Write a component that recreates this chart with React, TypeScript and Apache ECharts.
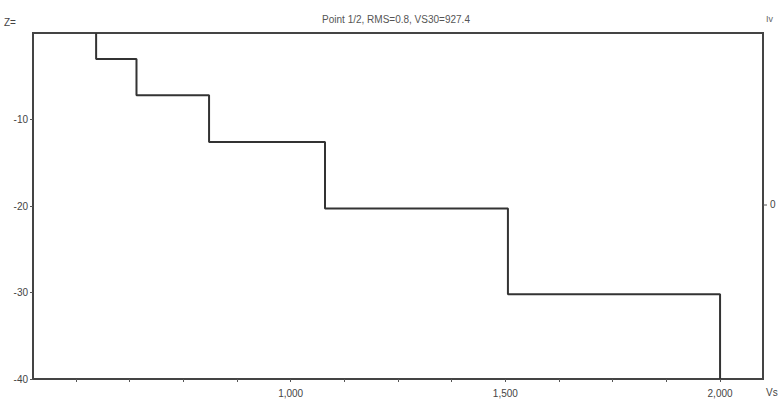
import React, { useEffect, useRef } from "react";
import * as echarts from "echarts";

// Layer shear-wave velocities (m/s) and depth boundaries (m, negative downward)
const layerVelocities = [547, 641, 810, 1080, 1506, 2000];
const layerTops = [0, -3.0, -7.2, -12.6, -20.3, -30.2];
const layerBottoms = [-3.0, -7.2, -12.6, -20.3, -30.2, -40];

const xLabelValues = [1000, 1500, 2000];
const xTickValues = [500, 625, 750, 875, 1000, 1125, 1250, 1375, 1500, 1625, 1750, 1875, 2000];
const yLabelValues = [-10, -20, -30, -40];

const titleText = "Point 1/2, RMS=0.8, VS30=927.4";

export default function App() {
  const ref = useRef<HTMLDivElement>(null);
  useEffect(() => {
    if (!ref.current) return;
    const chart = echarts.init(ref.current, undefined, { renderer: "svg" });
    const stepData: number[][] = [];
    layerVelocities.forEach((v, i) => {
      stepData.push([v, layerTops[i]]);
      stepData.push([v, layerBottoms[i]]);
    });
    const font = "Liberation Sans, Arial, sans-serif";
    chart.setOption({
      animation: false,
      backgroundColor: "#ffffff",
      title: {
        text: titleText,
        left: 391,
        top: 9,
        textAlign: "center",
        textStyle: { fontSize: 10, fontWeight: "normal", color: "#555", fontFamily: font },
      },
      grid: {
        left: 33,
        right: 16,
        top: 33,
        bottom: 26,
        show: true,
        borderColor: "#444",
        borderWidth: 2,
        backgroundColor: "transparent",
      },
      xAxis: {
        type: "value",
        position: "bottom",
        min: 400,
        max: 2100,
        axisLine: { show: false, onZero: false },
        splitLine: { show: false },
        axisTick: {
          show: true,
          customValues: xTickValues,
          length: 3,
          lineStyle: { color: "#555", width: 1 },
        },
        axisLabel: {
          customValues: xLabelValues,
          formatter: (v: number) => v.toLocaleString("en-US"),
          color: "#444",
          fontSize: 10,
          fontFamily: font,
          margin: 9,
        },
      },
      yAxis: {
        type: "value",
        min: -40,
        max: 0,
        axisLine: { show: false, onZero: false },
        splitLine: { show: false },
        axisTick: {
          show: true,
          customValues: yLabelValues,
          length: 3,
          lineStyle: { color: "#555", width: 1 },
        },
        axisLabel: {
          customValues: yLabelValues,
          color: "#444",
          fontSize: 10,
          fontFamily: font,
          margin: 5,
        },
      },
      graphic: [
        { type: "text", left: 4, top: 17, style: { text: "Z=", fontSize: 10, fill: "#444", fontFamily: font } },
        { type: "text", left: 766, top: 14, style: { text: "Iv", fontSize: 9, fill: "#666", fontFamily: font } },
        { type: "text", left: 770, top: 199, style: { text: "0", fontSize: 10, fill: "#444", fontFamily: font } },
        { type: "line", shape: { x1: 763, y1: 205, x2: 767, y2: 205 }, style: { stroke: "#555", lineWidth: 1 } },
        { type: "text", left: 766, top: 387, style: { text: "Vs", fontSize: 10, fill: "#444", fontFamily: font } },
      ],
      series: [
        {
          type: "line",
          data: stepData,
          showSymbol: false,
          symbol: "none",
          lineStyle: { color: "#333", width: 2 },
          clip: false,
        },
      ],
    });
    return () => chart.dispose();
  }, []);
  return <div ref={ref} style={{ width: 779, height: 405, position: "absolute", left: 0, top: 0 }} />;
}
